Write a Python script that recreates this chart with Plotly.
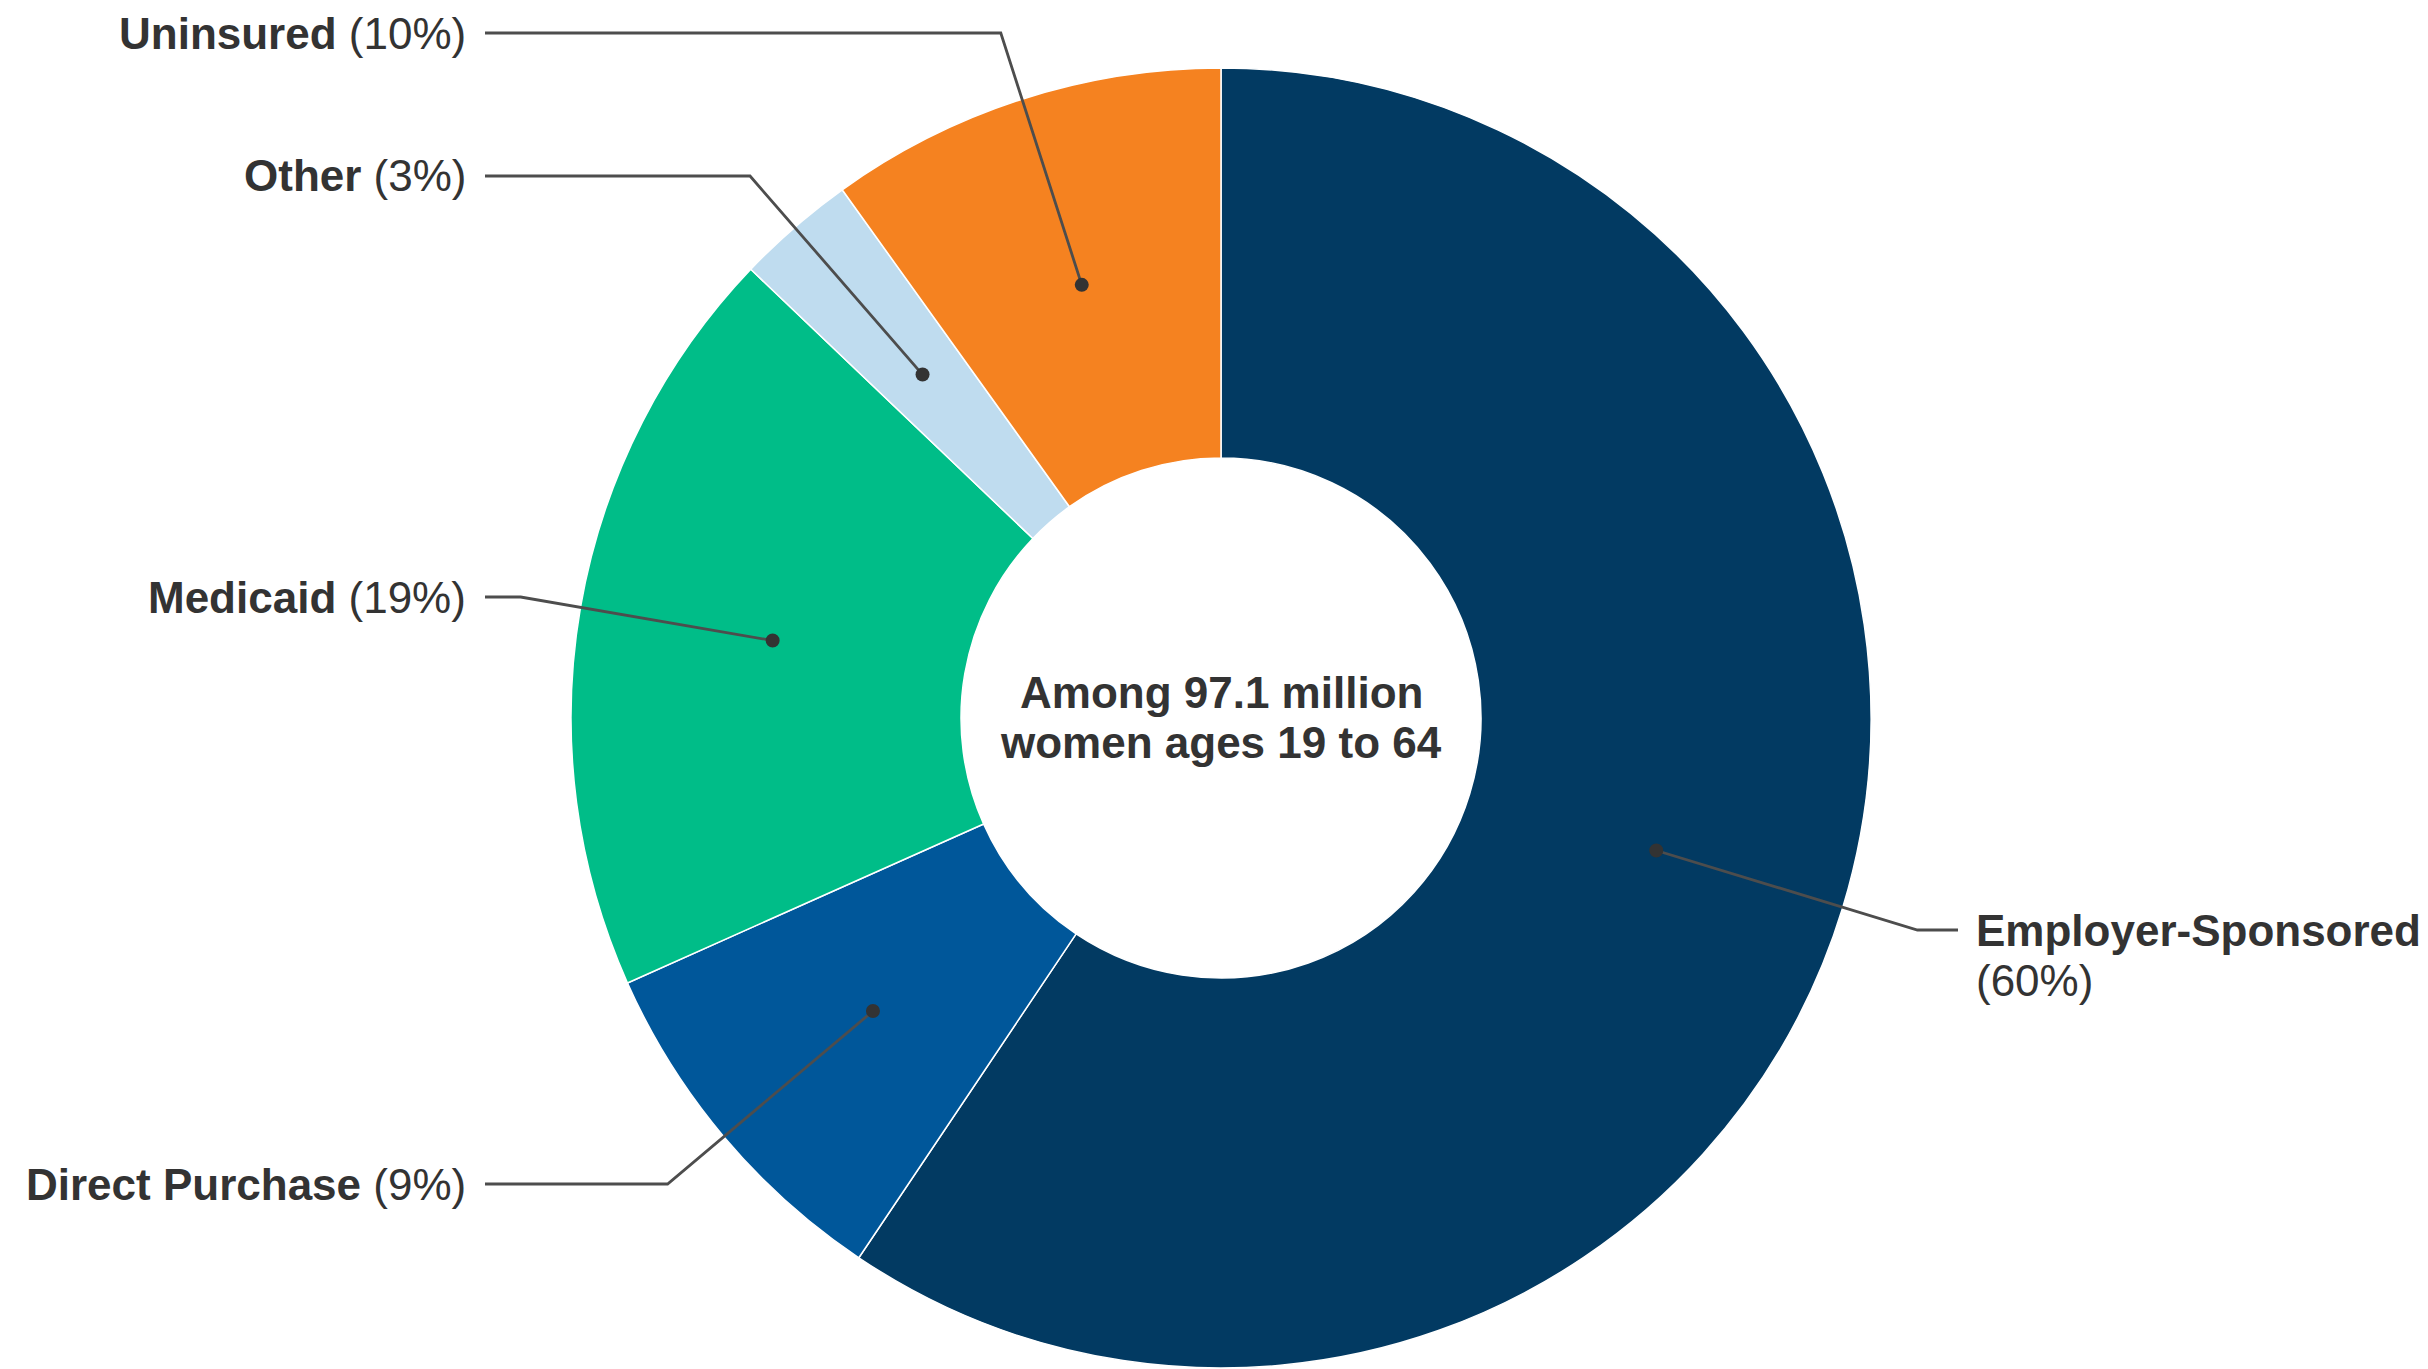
import math
import plotly.graph_objects as go

# Health coverage of women ages 19 to 64 (share of 97.1 million)
categories = ["Employer-Sponsored", "Direct Purchase", "Medicaid", "Other", "Uninsured"]
shares = [60, 9, 19, 3, 10]
colors = ["#023a62", "#00579a", "#00bd88", "#bfdcef", "#f58220"]
center_lines = ["Among 97.1 million", "women ages 19 to 64"]

# Canvas and donut geometry (pixels)
W, H = 2428, 1369
CX, CY, R = 1221, 718, 650
HOLE = 0.4
DOT_FRAC = 0.7          # leader dots sit midway through the ring

# Label placement: vertical position of each leader's horizontal run and side
label_y = [930, 1184, 597, 176, 33]
label_side = ["right", "left", "left", "left", "left"]
LEFT_TEXT_X, LEFT_LINE_X = 468, 485
RIGHT_TEXT_X, RIGHT_LINE_X = 1974, 1958
LINE_GAP = 50

FONT = "Liberation Sans, Arial, Helvetica, sans-serif"
TEXT_COLOR = "#333333"
LEADER_COLOR = "#4d4d4d"
FS = 44


def px(x):
    return x / W


def py(y):
    return 1 - y / H


fig = go.Figure(
    go.Pie(
        labels=categories,
        values=shares,
        hole=HOLE,
        sort=False,
        direction="clockwise",
        rotation=0,
        marker=dict(colors=colors, line=dict(color="#ffffff", width=1.5)),
        textinfo="none",
        hoverinfo="label+value",
        showlegend=False,
        domain=dict(x=[px(CX - R), px(CX + R)], y=[py(CY + R), py(CY - R)]),
    )
)

shapes = []
annotations = []
total = sum(shares)
cum = 0.0
for name, val, ly, side in zip(categories, shares, label_y, label_side):
    mid = (cum + val / 2) / total * 2 * math.pi
    cum += val
    ux, uy = math.sin(mid), -math.cos(mid)
    dx, dy = CX + DOT_FRAC * R * ux, CY + DOT_FRAC * R * uy
    # radial run from the dot until it reaches the label's row
    t = (ly - dy) / uy if abs(uy) > 1e-6 else 0
    bx, by = dx + t * ux, ly
    ex = LEFT_LINE_X if side == "left" else RIGHT_LINE_X
    shapes.append(dict(type="path", xref="paper", yref="paper",
                       path=f"M {px(dx)} {py(dy)} L {px(bx)} {py(by)} L {px(ex)} {py(ly)}",
                       line=dict(color=LEADER_COLOR, width=2.8)))
    rd = 7
    shapes.append(dict(type="circle", xref="paper", yref="paper",
                       x0=px(dx - rd), x1=px(dx + rd), y0=py(dy + rd), y1=py(dy - rd),
                       fillcolor="#333333", line=dict(color="#333333", width=0)))
    if side == "left":
        annotations.append(dict(x=px(LEFT_TEXT_X), y=py(ly), xref="paper", yref="paper",
                                xanchor="right", yanchor="middle", showarrow=False,
                                text=f"<b>{name}</b> ({val}%)",
                                font=dict(family=FONT, size=FS, color=TEXT_COLOR)))
    else:
        annotations.append(dict(x=px(RIGHT_TEXT_X), y=py(ly), xref="paper", yref="paper",
                                xanchor="left", yanchor="middle", showarrow=False,
                                text=f"<b>{name}</b>",
                                font=dict(family=FONT, size=FS, color=TEXT_COLOR)))
        annotations.append(dict(x=px(RIGHT_TEXT_X), y=py(ly + LINE_GAP), xref="paper", yref="paper",
                                xanchor="left", yanchor="middle", showarrow=False,
                                text=f"({val}%)",
                                font=dict(family=FONT, size=FS, color=TEXT_COLOR)))

for i, line in enumerate(center_lines):
    annotations.append(dict(x=px(CX), y=py(692 + i * 51), xref="paper", yref="paper",
                            xanchor="center", yanchor="middle", showarrow=False,
                            text=f"<b>{line}</b>",
                            font=dict(family=FONT, size=FS, color=TEXT_COLOR)))

fig.update_layout(
    width=W, height=H,
    margin=dict(l=0, r=0, t=0, b=0),
    paper_bgcolor="#ffffff",
    plot_bgcolor="#ffffff",
    shapes=shapes,
    annotations=annotations,
)

fig.write_html("out.html")
